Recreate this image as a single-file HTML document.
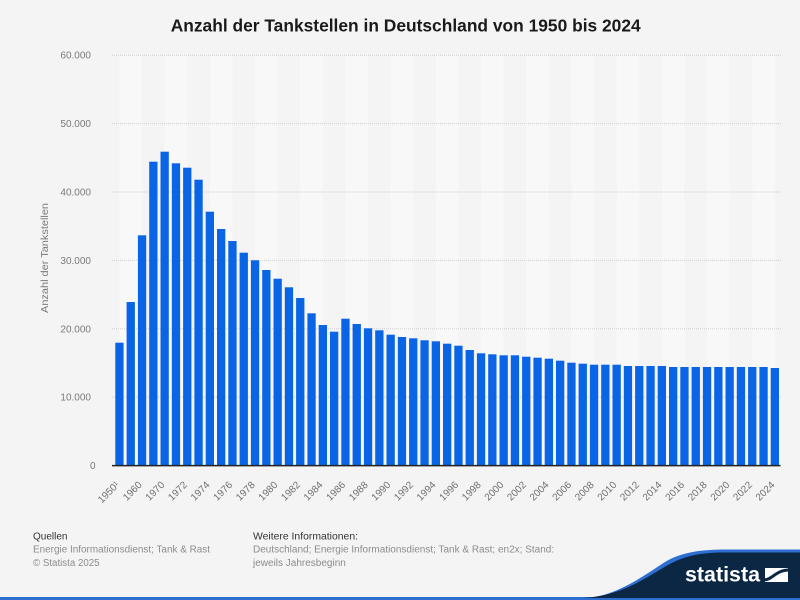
<!DOCTYPE html>
<html><head><meta charset="utf-8"><style>
html,body{margin:0;padding:0;background:#f4f4f4;}
svg{display:block;font-family:"Liberation Sans",Arial,sans-serif;}
</style></head><body>
<svg width="800" height="600" viewBox="0 0 800 600" xmlns="http://www.w3.org/2000/svg">
<rect x="0" y="0" width="800" height="600" fill="#f4f4f4"/>
<text x="405.7" y="31.5" text-anchor="middle" font-size="17.5" font-weight="bold" fill="#1a1a1a" textLength="470" lengthAdjust="spacingAndGlyphs">Anzahl der Tankstellen in Deutschland von 1950 bis 2024</text>
<g fill="#f8f8f8">
<rect x="119.45" y="55" width="22.6" height="410"/>
<rect x="164.65" y="55" width="22.6" height="410"/>
<rect x="209.85" y="55" width="22.6" height="410"/>
<rect x="255.05" y="55" width="22.6" height="410"/>
<rect x="300.25" y="55" width="22.6" height="410"/>
<rect x="345.45" y="55" width="22.6" height="410"/>
<rect x="390.65" y="55" width="22.6" height="410"/>
<rect x="435.85" y="55" width="22.6" height="410"/>
<rect x="481.05" y="55" width="22.6" height="410"/>
<rect x="526.25" y="55" width="22.6" height="410"/>
<rect x="571.45" y="55" width="22.6" height="410"/>
<rect x="616.65" y="55" width="22.6" height="410"/>
<rect x="661.85" y="55" width="22.6" height="410"/>
<rect x="707.05" y="55" width="22.6" height="410"/>
<rect x="752.25" y="55" width="22.6" height="410"/>
</g>
<g stroke="#cfcfcf" stroke-width="1" stroke-dasharray="1,1">
<line x1="112" y1="55.2" x2="781" y2="55.2"/>
<line x1="112" y1="123.6" x2="781" y2="123.6"/>
<line x1="112" y1="192" x2="781" y2="192"/>
<line x1="112" y1="260.4" x2="781" y2="260.4"/>
<line x1="112" y1="328.8" x2="781" y2="328.8"/>
<line x1="112" y1="397.1" x2="781" y2="397.1"/>
</g>
<g font-size="10" fill="#7a7a7a" text-anchor="end">
<text x="91" y="58.7">60.000</text>
<text x="91" y="127.1">50.000</text>
<text x="91" y="195.5">40.000</text>
<text x="91" y="263.9">30.000</text>
<text x="91" y="332.3">20.000</text>
<text x="91" y="400.6">10.000</text>
<text x="95.5" y="469">0</text>
</g>
<text transform="translate(48,258) rotate(-90)" text-anchor="middle" font-size="10" fill="#7a7a7a" textLength="110" lengthAdjust="spacingAndGlyphs">Anzahl der Tankstellen</text>
<g fill="#0a64e6">
<rect x="115.3" y="342.7" width="8.3" height="122.6"/>
<rect x="126.6" y="302" width="8.3" height="163.3"/>
<rect x="137.9" y="235.3" width="8.3" height="230"/>
<rect x="149.2" y="161.7" width="8.3" height="303.6"/>
<rect x="160.5" y="151.7" width="8.3" height="313.6"/>
<rect x="171.8" y="163.3" width="8.3" height="302"/>
<rect x="183.1" y="167.7" width="8.3" height="297.6"/>
<rect x="194.4" y="179.7" width="8.3" height="285.6"/>
<rect x="205.7" y="211.7" width="8.3" height="253.6"/>
<rect x="217.0" y="229" width="8.3" height="236.3"/>
<rect x="228.3" y="241" width="8.3" height="224.3"/>
<rect x="239.6" y="252.7" width="8.3" height="212.6"/>
<rect x="250.9" y="260.3" width="8.3" height="205"/>
<rect x="262.2" y="270" width="8.3" height="195.3"/>
<rect x="273.5" y="278.7" width="8.3" height="186.6"/>
<rect x="284.8" y="287.3" width="8.3" height="178"/>
<rect x="296.1" y="298" width="8.3" height="167.3"/>
<rect x="307.4" y="313.3" width="8.3" height="152"/>
<rect x="318.7" y="325" width="8.3" height="140.3"/>
<rect x="330.0" y="331.7" width="8.3" height="133.6"/>
<rect x="341.3" y="318.7" width="8.3" height="146.6"/>
<rect x="352.6" y="324" width="8.3" height="141.3"/>
<rect x="363.9" y="328.3" width="8.3" height="137"/>
<rect x="375.2" y="330.3" width="8.3" height="135"/>
<rect x="386.5" y="334.7" width="8.3" height="130.6"/>
<rect x="397.8" y="337" width="8.3" height="128.3"/>
<rect x="409.1" y="338.3" width="8.3" height="127"/>
<rect x="420.4" y="340.3" width="8.3" height="125"/>
<rect x="431.7" y="341.3" width="8.3" height="124"/>
<rect x="443.0" y="343.7" width="8.3" height="121.6"/>
<rect x="454.3" y="345.7" width="8.3" height="119.6"/>
<rect x="465.6" y="350" width="8.3" height="115.3"/>
<rect x="476.9" y="353.3" width="8.3" height="112"/>
<rect x="488.2" y="354.3" width="8.3" height="111"/>
<rect x="499.5" y="355.3" width="8.3" height="110"/>
<rect x="510.8" y="355.3" width="8.3" height="110"/>
<rect x="522.1" y="356.7" width="8.3" height="108.6"/>
<rect x="533.4" y="357.7" width="8.3" height="107.6"/>
<rect x="544.7" y="358.7" width="8.3" height="106.6"/>
<rect x="556.0" y="360.7" width="8.3" height="104.6"/>
<rect x="567.3" y="362.7" width="8.3" height="102.6"/>
<rect x="578.6" y="363.7" width="8.3" height="101.6"/>
<rect x="589.9" y="364.7" width="8.3" height="100.6"/>
<rect x="601.2" y="364.7" width="8.3" height="100.6"/>
<rect x="612.5" y="364.7" width="8.3" height="100.6"/>
<rect x="623.8" y="366" width="8.3" height="99.3"/>
<rect x="635.1" y="366" width="8.3" height="99.3"/>
<rect x="646.4" y="366" width="8.3" height="99.3"/>
<rect x="657.7" y="366" width="8.3" height="99.3"/>
<rect x="669.0" y="367" width="8.3" height="98.3"/>
<rect x="680.3" y="367" width="8.3" height="98.3"/>
<rect x="691.6" y="367" width="8.3" height="98.3"/>
<rect x="702.9" y="367" width="8.3" height="98.3"/>
<rect x="714.2" y="367" width="8.3" height="98.3"/>
<rect x="725.5" y="367" width="8.3" height="98.3"/>
<rect x="736.8" y="367" width="8.3" height="98.3"/>
<rect x="748.1" y="367" width="8.3" height="98.3"/>
<rect x="759.4" y="367" width="8.3" height="98.3"/>
<rect x="770.7" y="368" width="8.3" height="97.3"/>
</g>
<line x1="112" y1="465.6" x2="780.5" y2="465.6" stroke="#222" stroke-width="1.5"/>
<g font-size="10" fill="#707070" text-anchor="end">
<text transform="translate(119.95,485.5) rotate(-45)">1950¹</text>
<text transform="translate(142.55,485.5) rotate(-45)">1960</text>
<text transform="translate(165.15,485.5) rotate(-45)">1970</text>
<text transform="translate(187.75,485.5) rotate(-45)">1972</text>
<text transform="translate(210.35,485.5) rotate(-45)">1974</text>
<text transform="translate(232.95,485.5) rotate(-45)">1976</text>
<text transform="translate(255.55,485.5) rotate(-45)">1978</text>
<text transform="translate(278.15,485.5) rotate(-45)">1980</text>
<text transform="translate(300.75,485.5) rotate(-45)">1982</text>
<text transform="translate(323.35,485.5) rotate(-45)">1984</text>
<text transform="translate(345.95,485.5) rotate(-45)">1986</text>
<text transform="translate(368.55,485.5) rotate(-45)">1988</text>
<text transform="translate(391.15,485.5) rotate(-45)">1990</text>
<text transform="translate(413.75,485.5) rotate(-45)">1992</text>
<text transform="translate(436.35,485.5) rotate(-45)">1994</text>
<text transform="translate(458.95,485.5) rotate(-45)">1996</text>
<text transform="translate(481.55,485.5) rotate(-45)">1998</text>
<text transform="translate(504.15,485.5) rotate(-45)">2000</text>
<text transform="translate(526.75,485.5) rotate(-45)">2002</text>
<text transform="translate(549.35,485.5) rotate(-45)">2004</text>
<text transform="translate(571.95,485.5) rotate(-45)">2006</text>
<text transform="translate(594.55,485.5) rotate(-45)">2008</text>
<text transform="translate(617.15,485.5) rotate(-45)">2010</text>
<text transform="translate(639.75,485.5) rotate(-45)">2012</text>
<text transform="translate(662.35,485.5) rotate(-45)">2014</text>
<text transform="translate(684.95,485.5) rotate(-45)">2016</text>
<text transform="translate(707.55,485.5) rotate(-45)">2018</text>
<text transform="translate(730.15,485.5) rotate(-45)">2020</text>
<text transform="translate(752.75,485.5) rotate(-45)">2022</text>
<text transform="translate(775.35,485.5) rotate(-45)">2024</text>
</g>
<g font-size="10">
<text x="33" y="539.5" fill="#333">Quellen</text>
<text x="33" y="552.5" fill="#8c8c8c" textLength="177" lengthAdjust="spacingAndGlyphs">Energie Informationsdienst; Tank &amp; Rast</text>
<text x="33" y="566" fill="#8c8c8c" textLength="66.6" lengthAdjust="spacingAndGlyphs">© Statista 2025</text>
<text x="253" y="539.5" fill="#333" textLength="105" lengthAdjust="spacingAndGlyphs">Weitere Informationen:</text>
<text x="253" y="552.5" fill="#8c8c8c">Deutschland; Energie Informationsdienst; Tank &amp; Rast; en2x; Stand:</text>
<text x="253" y="566" fill="#8c8c8c">jeweils Jahresbeginn</text>
</g>
<rect x="0" y="597" width="800" height="3" fill="#2e6fd2"/>
<path d="M574 600 C615 598,640 578,665 562 C680 553,697 550,722 549.5 L800 549.5 L800 600 Z" fill="#2e6fd2"/>
<path d="M582 598 C622 596,645 578,668 565 C684 556,700 552.5,724 552.5 L800 552.5 L800 598 Z" fill="#0c2743"/>
<text x="685" y="581.7" font-size="21.5" font-weight="bold" fill="#ffffff" textLength="75" lengthAdjust="spacingAndGlyphs">statista</text>
<rect x="765" y="568" width="23" height="14" fill="#ffffff"/>
<path d="M764 580 C772 580,776 570,789 570" stroke="#0c2743" stroke-width="3" fill="none"/>
</svg>
</body></html>
